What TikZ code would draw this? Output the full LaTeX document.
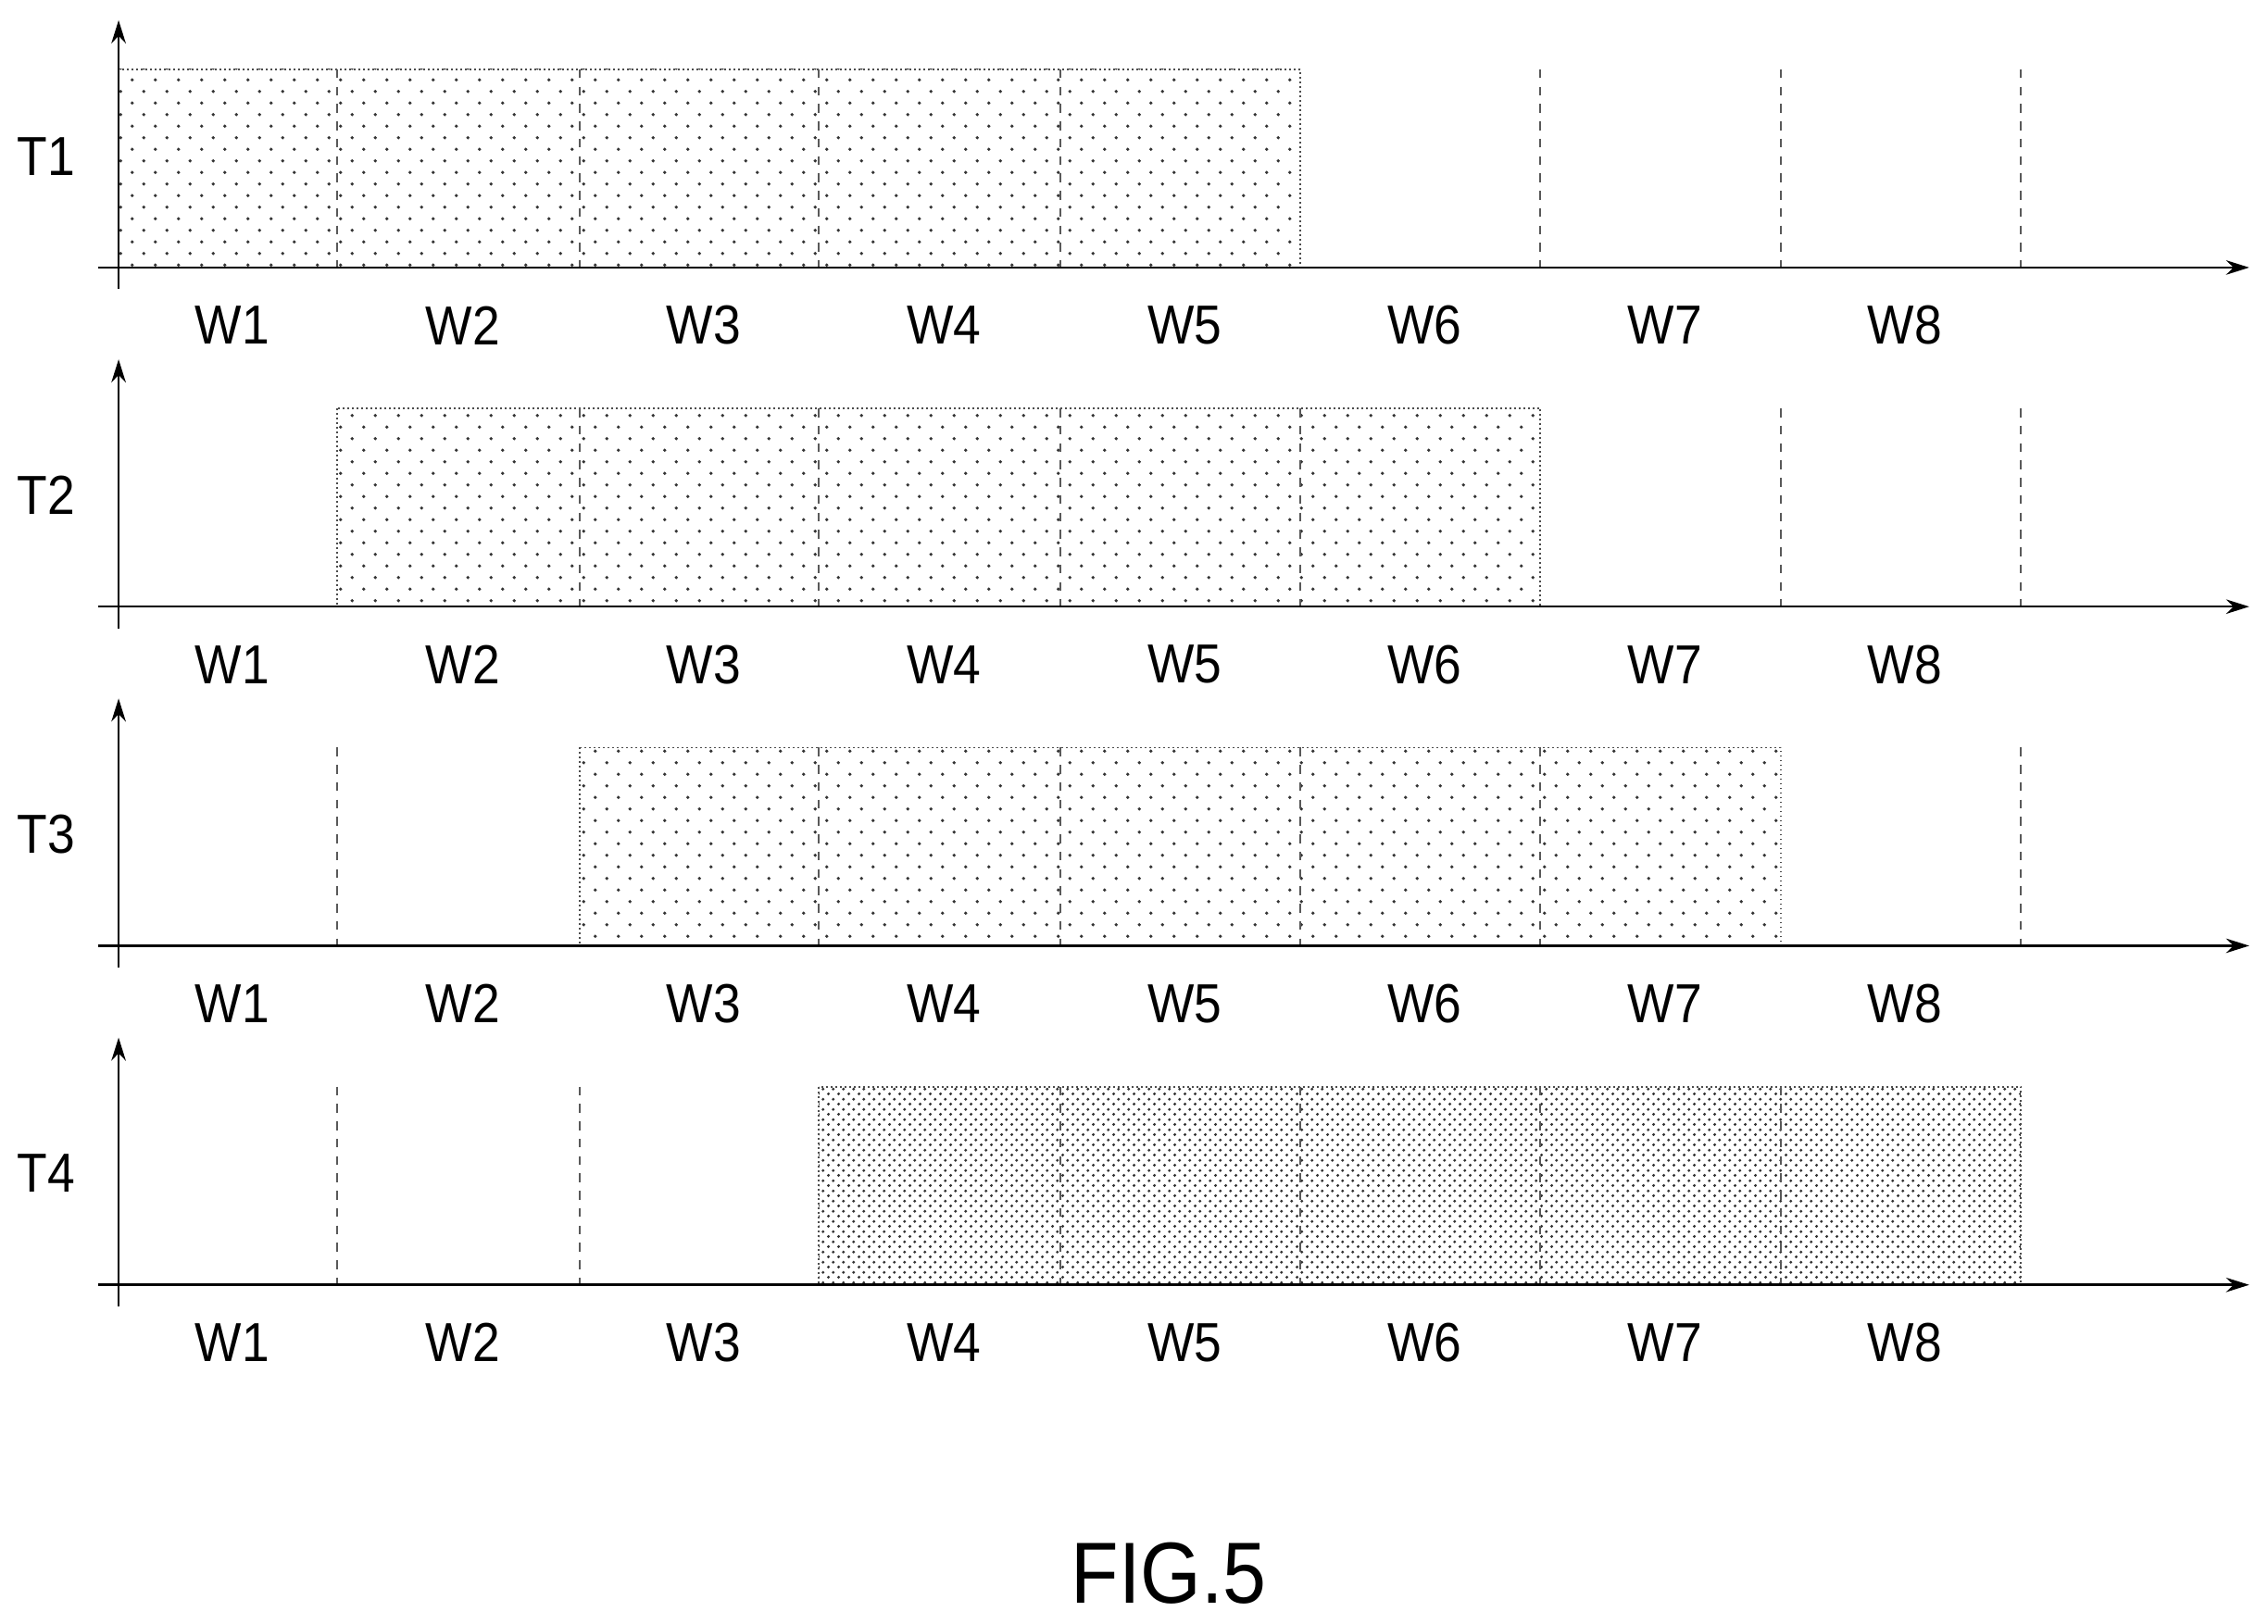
\documentclass[tikz,border=0pt]{standalone}
\usepackage{fontspec}
\setmainfont{Liberation Sans}
\usetikzlibrary{patterns,arrows.meta}
\pgfdeclarepatternformonly{sparsedots}{\pgfpointorigin}{\pgfpoint{8pt}{8pt}}{\pgfpoint{8pt}{8pt}}{\pgfpathcircle{\pgfpoint{2pt}{2pt}}{0.6pt}\pgfpathcircle{\pgfpoint{6pt}{6pt}}{0.6pt}\pgfusepath{fill}}
\pgfdeclarepatternformonly{densedots}{\pgfpointorigin}{\pgfpoint{3.4pt}{3.4pt}}{\pgfpoint{3.4pt}{3.4pt}}{\pgfpathcircle{\pgfpoint{0.85pt}{0.85pt}}{0.55pt}\pgfpathcircle{\pgfpoint{2.55pt}{2.55pt}}{0.55pt}\pgfusepath{fill}}
\tikzset{
  ax/.style={line width=0.8pt,-{Stealth[length=8pt,width=5pt]}},
  divline/.style={dashed,line width=0.6pt,gray!70!black},
  boxline/.style={line width=0.6pt,draw=gray!60!black,densely dotted},
  wlab/.style={font=\fontsize{19}{19}\selectfont,xscale=0.9},
  tlab/.style={font=\fontsize{19}{19}\selectfont,xscale=0.9},
}
\begin{document}
\begin{tikzpicture}[x=0.5pt,y=-0.5pt]
\useasboundingbox (0,0) rectangle (1568,1123);
\def\xs{{82,233,401,566,733,899,1065,1231,1397}}
\foreach \r/\a/\b/\pat/\empt in {0/0/5/sparsedots/{6,7,8},1/1/6/sparsedots/{7,8},2/2/7/sparsedots/{1,8},3/3/8/densedots/{1,2}}{
  \pgfmathsetmacro\ay{185+234.5*\r}
  \pgfmathsetmacro\ty{\ay-137}
  \pgfmathsetmacro\xa{\xs[\a]}
  \pgfmathsetmacro\xb{\xs[\b]}
  \fill[pattern=\pat,pattern color=black!80] (\xa,\ty) rectangle (\xb,\ay);
  \draw[boxline] (\xa,\ty) rectangle (\xb,\ay);
  \pgfmathtruncatemacro\aa{\a+1}
  \pgfmathtruncatemacro\bb{\b-1}
  \ifnum\aa>\bb\else
  \foreach \k in {\aa,...,\bb}{\pgfmathsetmacro\xk{\xs[\k]}\draw[divline] (\xk,\ty) -- (\xk,\ay);}
  \fi
  \foreach \k in \empt {\pgfmathsetmacro\xk{\xs[\k]}\draw[divline] (\xk,\ty) -- (\xk,\ay);}
  \coordinate (h0\r) at (68,\ay);
  \coordinate (h1\r) at (1555,\ay);
  \coordinate (v0\r) at (82,\ay+15);
  \coordinate (v1\r) at (82,\ty-34);
  \draw[ax] (h0\r) -- (h1\r);
  \draw[ax] (v0\r) -- (v1\r);
  \pgfmathtruncatemacro\tn{\r+1}
  \node[tlab] (T\r) at (32,\ay-77) {T\tn};
  \foreach \w in {1,...,8}{
    \pgfmathtruncatemacro\wp{\w-1}
    \pgfmathsetmacro\xl{\xs[\wp]}
    \pgfmathsetmacro\xr{\xs[\w]}
    \pgfmathsetmacro\wc{(\xl+\xr)/2+3}
    \node[wlab] (W\r\w) at (\wc,\ay+40) {W\w};
  }
}
\node[font=\fontsize{30}{30}\selectfont,xscale=0.9] (fig) at (808,1088) {FIG.5};
\end{tikzpicture}
\end{document}
